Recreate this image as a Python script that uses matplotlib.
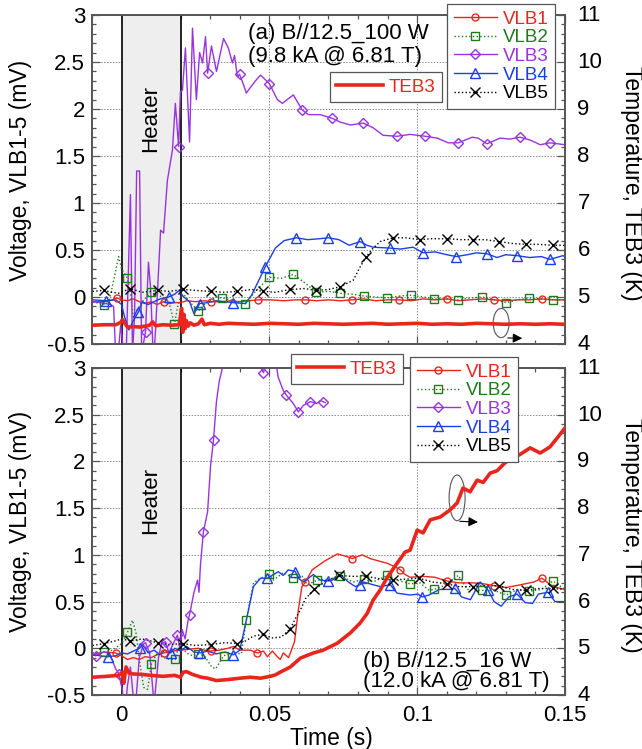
import numpy as np
import matplotlib
matplotlib.use('Agg')
import matplotlib.pyplot as plt
import matplotlib.transforms as mtransforms
from matplotlib.lines import Line2D
from matplotlib.patches import Ellipse
from matplotlib.ticker import MultipleLocator, FuncFormatter

plt.rcParams['font.family'] = ['Liberation Sans', 'DejaVu Sans']
plt.rcParams['axes.unicode_minus'] = False

# ================= panel (a) =================
a_vlb1_t = [-0.0098,-0.0060,-0.0030,-0.0017,0.0000,0.0020,0.0040,0.0060,0.0080,0.0100,0.0120,0.0142,0.0160,0.0180,0.0200,0.0220,0.0250,0.0280,0.0304,0.0340,0.0370,0.0400,0.0430,0.0463,0.0500,0.0550,0.0590,0.0622,0.0660,0.0700,0.0740,0.0780,0.0820,0.0860,0.0900,0.0939,0.0980,0.1020,0.1060,0.1101,0.1140,0.1180,0.1220,0.1260,0.1300,0.1340,0.1380,0.1422,0.1460,0.1500]
a_vlb1_v = [-0.05,-0.05,-0.03,-0.01,-0.03,-0.04,-0.02,-0.05,-0.07,-0.05,-0.08,-0.05,-0.07,-0.06,-0.06,-0.04,-0.05,-0.04,-0.05,-0.05,-0.04,-0.05,-0.04,-0.03,-0.03,-0.04,-0.03,-0.03,-0.04,-0.03,-0.04,-0.03,-0.02,-0.04,-0.03,-0.03,-0.04,-0.02,-0.03,-0.02,-0.04,-0.03,-0.02,-0.03,-0.04,-0.03,-0.03,-0.02,-0.03,-0.03]
a_vlb1_mt = [-0.0017,0.0142,0.0304,0.0463,0.0622,0.0780,0.0939,0.1101,0.1260,0.1422]
a_vlb1_mv = [-0.01,-0.05,-0.05,-0.03,-0.03,-0.03,-0.03,-0.02,-0.03,-0.02]

a_vlb2_t = [-0.0098,-0.0061,-0.0040,-0.0010,0.0000,0.0020,0.0030,0.0040,0.0050,0.0070,0.0098,0.0120,0.0140,0.0160,0.0172,0.0179,0.0190,0.0200,0.0212,0.0230,0.0260,0.0290,0.0320,0.0341,0.0380,0.0419,0.0450,0.0500,0.0540,0.0581,0.0620,0.0659,0.0700,0.0740,0.0780,0.0821,0.0860,0.0899,0.0940,0.0980,0.1020,0.1057,0.1100,0.1139,0.1180,0.1220,0.1260,0.1301,0.1340,0.1378,0.1420,0.1459,0.1500]
a_vlb2_v = [-0.05,-0.08,-0.02,0.43,0.30,0.20,0.05,-0.21,-0.15,-0.05,0.05,0.02,0.00,-0.05,-0.20,-0.29,-0.10,0.00,0.02,-0.05,-0.15,-0.05,0.00,-0.01,-0.04,-0.07,0.05,0.21,0.20,0.24,0.15,0.05,0.06,0.04,0.03,0.01,0.00,-0.01,0.01,0.02,0.00,-0.02,-0.02,-0.03,-0.01,0.00,-0.03,-0.06,-0.03,-0.01,-0.02,-0.03,-0.03]
a_vlb2_mt = [-0.0061,0.0020,0.0098,0.0179,0.0260,0.0341,0.0419,0.0500,0.0581,0.0659,0.0740,0.0821,0.0899,0.0980,0.1057,0.1139,0.1220,0.1301,0.1378,0.1459]
a_vlb2_mv = [-0.08,0.20,0.05,-0.29,-0.15,-0.01,-0.07,0.21,0.24,0.05,0.04,0.01,-0.01,0.02,-0.02,-0.03,0.00,-0.06,-0.01,-0.03]

a_vlb3_t = [-0.0098,-0.0071,-0.0037,-0.0027,-0.0017,-0.0003,0.0014,0.0030,0.0037,0.0044,0.0051,0.0061,0.0068,0.0081,0.0091,0.0098,0.0108,0.0115,0.0132,0.0142,0.0155,0.0172,0.0182,0.0193,0.0199,0.0206,0.0216,0.0230,0.0240,0.0253,0.0264,0.0274,0.0284,0.0291,0.0304,0.0321,0.0345,0.0361,0.0375,0.0382,0.0392,0.0399,0.0409,0.0422,0.0436,0.0453,0.0470,0.0500,0.0527,0.0544,0.0581,0.0611,0.0632,0.0672,0.0713,0.0740,0.0774,0.0818,0.0851,0.0885,0.0932,0.0976,0.1027,0.1068,0.1105,0.1139,0.1186,0.1206,0.1236,0.1280,0.1314,0.1348,0.1382,0.1416,0.1449,0.1500]
a_vlb3_v = [-0.05,-0.06,-0.08,-0.10,-0.80,-0.30,-0.80,1.09,-0.60,-0.20,1.34,1.34,-0.60,-0.37,0.37,0.10,-0.70,-0.35,0.71,0.68,1.24,1.56,2.06,1.60,2.18,2.20,2.65,1.65,2.86,2.10,2.60,2.49,2.77,2.38,2.67,2.40,2.75,2.65,2.49,2.57,2.34,2.37,2.29,2.17,2.23,2.30,2.36,2.27,2.10,2.06,2.15,1.99,1.94,1.94,1.90,1.86,1.83,1.85,1.80,1.72,1.71,1.73,1.71,1.69,1.64,1.64,1.70,1.69,1.63,1.69,1.68,1.70,1.67,1.62,1.64,1.62]
a_vlb3_mt = [0.0081,0.0193,0.0291,0.0399,0.0500,0.0611,0.0713,0.0818,0.0932,0.1027,0.1139,0.1236,0.1348,0.1449]
a_vlb3_mv = [-0.37,1.60,2.38,2.37,2.27,1.99,1.90,1.85,1.71,1.71,1.64,1.63,1.70,1.64]

a_vlb4_t = [-0.0098,-0.0051,-0.0020,0.0000,0.0010,0.0025,0.0040,0.0057,0.0070,0.0090,0.0110,0.0130,0.0159,0.0180,0.0195,0.0210,0.0230,0.0245,0.0264,0.0290,0.0320,0.0350,0.0378,0.0419,0.0440,0.0486,0.0520,0.0550,0.0591,0.0630,0.0670,0.0699,0.0735,0.0770,0.0807,0.0830,0.0851,0.0909,0.0943,0.0986,0.1020,0.1060,0.1100,0.1132,0.1170,0.1200,0.1236,0.1270,0.1300,0.1338,0.1380,0.1420,0.1449,0.1493,0.1500]
a_vlb4_v = [-0.03,-0.04,-0.03,-0.08,-0.21,-0.35,-0.25,-0.16,-0.05,-0.08,-0.05,-0.02,0.00,0.03,0.07,0.00,-0.05,-0.18,-0.07,-0.06,-0.04,-0.05,-0.06,-0.07,0.02,0.32,0.52,0.60,0.63,0.61,0.62,0.63,0.61,0.55,0.59,0.55,0.53,0.52,0.51,0.53,0.47,0.48,0.45,0.43,0.45,0.47,0.46,0.42,0.45,0.44,0.42,0.43,0.40,0.44,0.43]
a_vlb4_mt = [-0.0051,0.0057,0.0159,0.0264,0.0378,0.0486,0.0591,0.0699,0.0807,0.0909,0.1020,0.1132,0.1236,0.1338,0.1449]
a_vlb4_mv = [-0.04,-0.16,0.00,-0.07,-0.06,0.32,0.63,0.63,0.59,0.52,0.47,0.43,0.46,0.44,0.40]

a_vlb5_t = [-0.0098,-0.0061,-0.0030,-0.0010,0.0030,0.0070,0.0122,0.0160,0.0209,0.0250,0.0301,0.0350,0.0392,0.0440,0.0480,0.0520,0.0571,0.0620,0.0659,0.0700,0.0740,0.0784,0.0807,0.0828,0.0851,0.0875,0.0919,0.0960,0.1010,0.1050,0.1101,0.1150,0.1189,0.1230,0.1277,0.1320,0.1368,0.1410,0.1459,0.1500]
a_vlb5_v = [0.06,0.07,0.05,0.04,0.09,0.05,0.07,0.06,0.08,0.07,0.06,0.05,0.06,0.08,0.06,0.05,0.08,0.09,0.07,0.08,0.11,0.18,0.32,0.43,0.52,0.59,0.63,0.63,0.61,0.62,0.62,0.61,0.61,0.61,0.59,0.57,0.56,0.56,0.55,0.55]
a_vlb5_mt = [-0.0061,0.0030,0.0122,0.0209,0.0301,0.0392,0.0480,0.0571,0.0659,0.0740,0.0828,0.0919,0.1010,0.1101,0.1189,0.1277,0.1368,0.1459]
a_vlb5_mv = [0.07,0.09,0.07,0.08,0.06,0.06,0.06,0.08,0.07,0.11,0.43,0.63,0.61,0.62,0.61,0.59,0.56,0.55]

a_teb3_t = [-0.0098,-0.006,-0.002,-0.0003,0.0003,0.0010,0.0020,0.0040,0.0060,0.0080,0.0095,0.0105,0.0115,0.0140,0.0170,0.0195,0.0203,0.0207,0.0211,0.0215,0.0219,0.0225,0.0232,0.0245,0.0260,0.0272,0.0280,0.0300,0.0330,0.0360,0.0400,0.0450,0.0500,0.0550,0.0600,0.0650,0.0700,0.0750,0.0800,0.0850,0.0900,0.0950,0.1000,0.1050,0.1100,0.1150,0.1200,0.1250,0.1300,0.1350,0.1400,0.1450,0.1500]
a_teb3_T = [4.40,4.41,4.41,4.46,4.52,4.45,4.36,4.37,4.36,4.38,4.40,4.47,4.39,4.41,4.40,4.41,4.76,4.25,4.63,4.33,4.50,4.38,4.45,4.40,4.43,4.53,4.41,4.44,4.42,4.44,4.43,4.42,4.44,4.43,4.42,4.44,4.43,4.42,4.43,4.44,4.42,4.43,4.44,4.42,4.43,4.42,4.44,4.43,4.42,4.43,4.42,4.43,4.42]

# ================= panel (b) =================
b_vlb1_t = [-0.0098,-0.0060,-0.0020,0.0000,0.0020,0.0040,0.0060,0.0080,0.0100,0.0120,0.0142,0.0170,0.0199,0.0230,0.0260,0.0280,0.0301,0.0330,0.0360,0.0378,0.0400,0.0436,0.0459,0.0480,0.0493,0.0510,0.0527,0.0537,0.0547,0.0565,0.0585,0.0598,0.0610,0.0622,0.0645,0.0685,0.0730,0.0764,0.0780,0.0814,0.0841,0.0875,0.0899,0.0932,0.0943,0.0959,0.0976,0.1020,0.1060,0.1101,0.1140,0.1190,0.1225,0.1260,0.1301,0.1350,0.1395,0.1422,0.1459,0.1500]
b_vlb1_v = [-0.07,-0.04,-0.05,-0.08,-0.12,-0.10,-0.12,-0.09,-0.10,-0.07,-0.05,-0.03,-0.02,-0.01,0.00,-0.02,-0.03,-0.02,0.00,0.02,-0.02,-0.02,-0.05,-0.03,-0.09,-0.03,-0.09,-0.12,-0.05,-0.10,0.07,0.41,0.66,0.71,0.84,0.93,1.01,0.98,0.96,1.00,0.96,0.93,0.91,0.86,0.84,0.79,0.76,0.77,0.76,0.72,0.70,0.70,0.69,0.67,0.65,0.68,0.71,0.75,0.66,0.63]
b_vlb1_mt = [-0.0020,0.0142,0.0301,0.0459,0.0622,0.0780,0.0943,0.1101,0.1260,0.1422]
b_vlb1_mv = [-0.05,-0.05,-0.03,-0.05,0.71,0.96,0.84,0.72,0.67,0.75]

b_vlb2_t = [-0.0098,-0.0061,-0.0030,0.0000,0.0020,0.0037,0.0050,0.0060,0.0075,0.0088,0.0101,0.0120,0.0140,0.0165,0.0182,0.0195,0.0220,0.0240,0.0260,0.0280,0.0305,0.0318,0.0345,0.0380,0.0405,0.0422,0.0446,0.0470,0.0500,0.0514,0.0547,0.0581,0.0611,0.0628,0.0662,0.0706,0.0740,0.0784,0.0821,0.0851,0.0899,0.0932,0.0976,0.1010,0.1040,0.1057,0.1100,0.1139,0.1170,0.1220,0.1260,0.1301,0.1340,0.1378,0.1420,0.1459,0.1500]
b_vlb2_v = [-0.05,-0.04,-0.02,0.05,0.17,0.30,0.15,-0.12,-0.42,-0.44,-0.17,-0.05,-0.10,-0.12,-0.12,0.05,-0.05,-0.08,-0.06,-0.08,-0.20,-0.22,-0.08,-0.05,-0.06,0.30,0.70,0.75,0.79,0.73,0.81,0.75,0.77,0.68,0.73,0.74,0.77,0.71,0.74,0.71,0.78,0.73,0.69,0.70,0.62,0.63,0.68,0.78,0.63,0.62,0.62,0.57,0.63,0.61,0.63,0.72,0.63]
b_vlb2_mt = [-0.0061,0.0020,0.0101,0.0182,0.0260,0.0345,0.0422,0.0500,0.0581,0.0662,0.0740,0.0821,0.0899,0.0976,0.1057,0.1139,0.1220,0.1301,0.1378,0.1459]
b_vlb2_mv = [-0.04,0.17,-0.17,-0.12,-0.06,-0.08,0.30,0.79,0.75,0.73,0.77,0.74,0.78,0.69,0.63,0.78,0.62,0.57,0.61,0.72]

b_vlb3_t = [-0.0098,-0.0088,-0.0060,-0.0040,-0.0020,-0.0010,0.0003,0.0008,0.0020,0.0030,0.0045,0.0060,0.0075,0.0081,0.0095,0.0110,0.0125,0.0135,0.0149,0.0160,0.0175,0.0189,0.0197,0.0205,0.0215,0.0225,0.0230,0.0245,0.0257,0.0262,0.0267,0.0277,0.0291,0.0301,0.0311,0.0321,0.0330,0.0341,0.0360,0.0400,0.0440,0.0463,0.0480,0.0493,0.0510,0.0530,0.0547,0.0557,0.0581,0.0598,0.0615,0.0639,0.0660,0.0672,0.0682,0.0689]
b_vlb3_v = [-0.07,-0.08,-0.04,-0.06,-0.22,-0.27,-0.45,-0.80,-0.40,-0.20,-0.70,-0.10,0.05,0.06,-0.05,-0.60,-0.10,0.05,0.07,-0.05,0.05,0.14,0.00,0.20,0.10,0.30,0.36,0.60,0.73,0.60,0.90,1.25,1.46,1.95,2.23,2.64,2.85,3.00,3.40,3.60,3.30,3.05,2.95,3.10,3.30,2.90,2.76,2.71,2.62,2.53,2.60,2.64,2.62,2.65,2.64,2.63]
b_vlb3_mt = [-0.0088,-0.0010,0.0081,0.0149,0.0189,0.0230,0.0277,0.0311,0.0480,0.0557,0.0598,0.0639,0.0682]
b_vlb3_mv = [-0.08,-0.27,0.06,0.07,0.14,0.36,1.25,2.23,2.95,2.71,2.53,2.64,2.64]

b_vlb4_t = [-0.0098,-0.0047,-0.0020,0.0000,0.0020,0.0040,0.0061,0.0071,0.0090,0.0110,0.0130,0.0145,0.0166,0.0180,0.0200,0.0220,0.0245,0.0267,0.0290,0.0320,0.0350,0.0378,0.0400,0.0422,0.0446,0.0470,0.0493,0.0530,0.0547,0.0564,0.0588,0.0598,0.0615,0.0649,0.0672,0.0699,0.0713,0.0740,0.0767,0.0791,0.0807,0.0818,0.0851,0.0875,0.0909,0.0932,0.0976,0.1003,0.1017,0.1040,0.1075,0.1110,0.1128,0.1150,0.1180,0.1213,0.1240,0.1260,0.1284,0.1310,0.1338,0.1365,0.1390,0.1410,0.1443,0.1466,0.1500]
b_vlb4_v = [-0.07,-0.09,-0.08,-0.05,-0.06,-0.03,0.00,0.04,-0.05,-0.02,-0.07,-0.02,-0.05,0.00,-0.03,0.02,-0.04,-0.05,-0.03,-0.06,-0.04,-0.07,-0.02,0.30,0.66,0.75,0.75,0.82,0.78,0.84,0.82,0.75,0.71,0.79,0.73,0.72,0.73,0.79,0.71,0.66,0.68,0.71,0.68,0.66,0.68,0.59,0.57,0.58,0.55,0.57,0.63,0.63,0.64,0.55,0.52,0.71,0.62,0.50,0.45,0.55,0.58,0.49,0.48,0.58,0.60,0.50,0.50]
b_vlb4_mt = [-0.0047,0.0061,0.0166,0.0267,0.0378,0.0493,0.0588,0.0699,0.0807,0.0909,0.1017,0.1128,0.1240,0.1338,0.1443]
b_vlb4_mv = [-0.09,0.00,-0.05,-0.05,-0.07,0.75,0.82,0.72,0.68,0.68,0.55,0.64,0.62,0.58,0.60]

b_vlb5_t = [-0.0098,-0.0061,-0.0020,0.0000,0.0030,0.0070,0.0122,0.0160,0.0209,0.0250,0.0301,0.0350,0.0392,0.0420,0.0446,0.0480,0.0507,0.0540,0.0571,0.0590,0.0605,0.0622,0.0652,0.0692,0.0736,0.0780,0.0828,0.0880,0.0919,0.0960,0.1007,0.1050,0.1101,0.1140,0.1189,0.1230,0.1277,0.1320,0.1368,0.1410,0.1459,0.1500]
b_vlb5_v = [0.03,0.05,0.08,0.10,0.08,0.10,0.06,0.04,0.05,0.03,0.04,0.06,0.05,0.08,0.13,0.15,0.11,0.12,0.21,0.33,0.41,0.53,0.63,0.72,0.78,0.77,0.77,0.74,0.73,0.74,0.75,0.71,0.69,0.66,0.66,0.67,0.67,0.63,0.62,0.64,0.64,0.63]
b_vlb5_mt = [-0.0061,0.0030,0.0122,0.0209,0.0301,0.0392,0.0480,0.0571,0.0652,0.0736,0.0828,0.0919,0.1007,0.1101,0.1189,0.1277,0.1368,0.1459]
b_vlb5_mv = [0.05,0.08,0.06,0.05,0.04,0.05,0.15,0.21,0.63,0.78,0.77,0.73,0.75,0.69,0.66,0.67,0.62,0.64]

b_teb3_t = [-0.0098,-0.0050,-0.0010,0.0003,0.0007,0.0010,0.0015,0.0025,0.0040,0.0070,0.0100,0.0140,0.0180,0.0199,0.0209,0.0220,0.0240,0.0270,0.0291,0.0320,0.0360,0.0400,0.0436,0.0470,0.0503,0.0520,0.0537,0.0571,0.0605,0.0649,0.0682,0.0730,0.0774,0.0807,0.0831,0.0851,0.0875,0.0899,0.0932,0.0959,0.0976,0.1000,0.1020,0.1044,0.1078,0.1111,0.1135,0.1155,0.1179,0.1203,0.1223,0.1247,0.1270,0.1297,0.1321,0.1348,0.1382,0.1416,0.1449,0.1476,0.1500]
b_teb3_T = [4.38,4.40,4.42,4.49,4.25,4.38,4.60,4.47,4.45,4.44,4.42,4.40,4.42,4.38,4.49,4.50,4.44,4.38,4.36,4.31,4.33,4.36,4.38,4.36,4.40,4.43,4.49,4.60,4.79,4.90,4.96,5.11,5.33,5.54,5.75,6.03,6.25,6.52,6.82,7.06,7.10,7.53,7.47,7.75,7.81,7.96,8.11,8.43,8.35,8.60,8.55,8.75,8.80,8.97,9.07,9.15,9.29,9.18,9.31,9.52,9.72]

names = ['VLB1', 'VLB2', 'VLB3', 'VLB4', 'VLB5']
x_ticks = [0, 0.05, 0.1, 0.15]
heater_span = (0.0, 0.02)

# ---------------- styles ----------------
C_RED = '#e8261e'
COLORS = [C_RED, '#1f7a1f', '#9933dd', '#1a3ee6', 'black']
MARKERS = ['o', 's', 'D', '^', 'x']
MSIZES = [5, 5.5, 5.5, 7, 7.5]
LSTYLES = ['-', ':', '-', '-', ':']
SPINE = '#555555'
FS = 16

fig = plt.figure(figsize=(6.42, 7.49), dpi=100)
L, W = 92 / 642, 473 / 642
axA = fig.add_axes([L, 1 - 344 / 749, W, 329 / 749])
axB = fig.add_axes([L, 1 - 695 / 749, W, 327 / 749])

fmt = FuncFormatter(lambda v, p: f'{v:g}')
up2 = mtransforms.ScaledTranslation(0, 2 / 100, fig.dpi_scale_trans)


def setup(ax, show_x):
    ax.set_xlim(-0.01, 0.15)
    ax.set_ylim(-0.5, 3)
    ax.set_xticks(x_ticks)
    ax.xaxis.set_minor_locator(MultipleLocator(0.01))
    ax.yaxis.set_major_locator(MultipleLocator(0.5))
    ax.yaxis.set_minor_locator(MultipleLocator(0.1))
    ax.xaxis.set_major_formatter(fmt)
    ax.yaxis.set_major_formatter(fmt)
    ax.set_axisbelow(True)
    ax.grid(True, which='major', ls=(0, (1.5, 1.5)), color='#8a8a8a', lw=0.7)
    ax.tick_params(which='both', direction='in', top=True, right=False, colors=SPINE,
                   labelcolor='black', labelsize=FS, width=0.9)
    ax.tick_params(which='major', length=6)
    ax.tick_params(which='minor', length=3)
    ax.tick_params(axis='y', pad=5)
    ax.tick_params(axis='x', pad=7, labelbottom=show_x)
    for s in ax.spines.values():
        s.set_color(SPINE)
        s.set_linewidth(1.2)
    ax.axvspan(*heater_span, facecolor='#eeeeee', edgecolor='black', lw=1.2, zorder=1)
    ax2 = ax.twinx()
    ax2.set_ylim(4, 11)
    ax2.yaxis.set_major_locator(MultipleLocator(1))
    ax2.yaxis.set_minor_locator(MultipleLocator(0.2))
    ax2.yaxis.set_major_formatter(fmt)
    ax2.tick_params(which='both', direction='in', colors=SPINE, labelcolor='black',
                    labelsize=FS, width=0.9, pad=9)
    ax2.tick_params(which='major', length=6)
    ax2.tick_params(which='minor', length=3)
    for lab in ax2.get_yticklabels():
        lab.set_transform(lab.get_transform() + up2)
    for s in ax2.spines.values():
        s.set_color(SPINE)
        s.set_linewidth(1.2)
    return ax2


def draw(ax, ax2, series, teb):
    for i, (t, v, mt, mv) in enumerate(series):
        ax.plot(t, v, color=COLORS[i], ls=LSTYLES[i], lw=1.0, zorder=3)
        ax.plot(mt, mv, ls='none', marker=MARKERS[i], ms=MSIZES[i], mfc='none',
                mec=COLORS[i], mew=1.0, zorder=4)
    ax2.plot(teb[0], teb[1], color=C_RED, lw=2.6, zorder=3)


def legends(ax2, vlb_anchor, teb_anchor):
    hs = [Line2D([], [], color=COLORS[i], ls=LSTYLES[i], lw=1.0, marker=MARKERS[i],
                 ms=MSIZES[i], mfc='none', mec=COLORS[i], mew=1.0) for i in range(5)]
    kw = dict(loc='upper right', bbox_transform=fig.transFigure, fontsize=13.5,
              frameon=True, fancybox=False, framealpha=1, borderaxespad=0,
              handletextpad=0.3)
    l1 = ax2.legend(hs, names, bbox_to_anchor=vlb_anchor, handlelength=2.3,
                    labelspacing=0.08, borderpad=0.35, **kw)
    l1.get_frame().set_edgecolor(SPINE)
    l1.get_frame().set_linewidth(0.9)
    for txt, c in zip(l1.get_texts(), COLORS):
        txt.set_color(c)
    ax2.add_artist(l1)
    ht = [Line2D([], [], color=C_RED, lw=2.6)]
    l2 = ax2.legend(ht, ['TEB3'], bbox_to_anchor=teb_anchor, handlelength=2.5,
                    borderpad=0.35, **kw)
    l2.get_frame().set_edgecolor(SPINE)
    l2.get_frame().set_linewidth(0.9)
    l2.get_texts()[0].set_color(C_RED)


# ---- panel (a)
axA2 = setup(axA, False)
seriesA = [(a_vlb1_t, a_vlb1_v, a_vlb1_mt, a_vlb1_mv),
           (a_vlb2_t, a_vlb2_v, a_vlb2_mt, a_vlb2_mv),
           (a_vlb3_t, a_vlb3_v, a_vlb3_mt, a_vlb3_mv),
           (a_vlb4_t, a_vlb4_v, a_vlb4_mt, a_vlb4_mv),
           (a_vlb5_t, a_vlb5_v, a_vlb5_mt, a_vlb5_mv)]
draw(axA, axA2, seriesA, (a_teb3_t, a_teb3_T))
axA.text(0.01, 1.9, 'Heater', rotation=90, ha='center', va='center', fontsize=FS, zorder=2)
axA.text(0.330, 0.927, '(a) B//12.5_100 W', transform=axA.transAxes, fontsize=FS, va='baseline')
axA.text(0.330, 0.857, '(9.8 kA @ 6.81 T)', transform=axA.transAxes, fontsize=FS, va='baseline')
axA.add_patch(Ellipse((0.1284, -0.277), 0.0054, 0.31, fill=False, ec=SPINE, lw=0.8, zorder=5))
axA.annotate('', xy=(0.1365, -0.44), xytext=(0.1297, -0.435),
             arrowprops=dict(arrowstyle='-|>', color='black', lw=0.8, mutation_scale=14), zorder=5)
legends(axA2, (555 / 642, 1 - 4 / 749), (442 / 642, 1 - 72 / 749))

# ---- panel (b)
axB2 = setup(axB, True)
seriesB = [(b_vlb1_t, b_vlb1_v, b_vlb1_mt, b_vlb1_mv),
           (b_vlb2_t, b_vlb2_v, b_vlb2_mt, b_vlb2_mv),
           (b_vlb3_t, b_vlb3_v, b_vlb3_mt, b_vlb3_mv),
           (b_vlb4_t, b_vlb4_v, b_vlb4_mt, b_vlb4_mv),
           (b_vlb5_t, b_vlb5_v, b_vlb5_mt, b_vlb5_mv)]
draw(axB, axB2, seriesB, (b_teb3_t, b_teb3_T))
axB.text(0.01, 1.58, 'Heater', rotation=90, ha='center', va='center', fontsize=FS, zorder=2)
axB.text(0.573, 0.0856, '(b) B//12.5_16 W', transform=axB.transAxes, fontsize=FS, va='baseline')
axB.text(0.573, 0.0245, '(12.0 kA @ 6.81 T)', transform=axB.transAxes, fontsize=FS, va='baseline')
axB.add_patch(Ellipse((0.1135, 1.61), 0.0054, 0.49, fill=False, ec=SPINE, lw=0.8, zorder=5))
axB.annotate('', xy=(0.1215, 1.35), xytext=(0.1135, 1.36),
             arrowprops=dict(arrowstyle='-|>', color='black', lw=0.8, mutation_scale=14), zorder=5)
legends(axB2, (518 / 642, 1 - 357 / 749), (403 / 642, 1 - 354 / 749))

# ---- axis labels
for yc in (1 - 170 / 749, 1 - 521 / 749):
    fig.text(21 / 642, yc, 'Voltage, VLB1-5 (mV)', rotation=90, ha='center', va='center', fontsize=16.5)
for yc in (1 - 183 / 749, 1 - 535 / 749):
    fig.text(632 / 642, yc, 'Temperature, TEB3 (K)', rotation=270, ha='center', va='center', fontsize=16.5)
fig.text(331 / 642, 1 - 738 / 749, 'Time (s)', ha='center', va='center', fontsize=16.5)

fig.savefig('out.png', dpi=100)
